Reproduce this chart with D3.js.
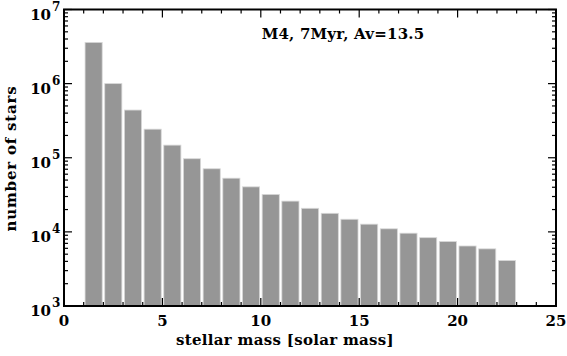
<!DOCTYPE html>
<html><head><meta charset="utf-8">
<script src="https://cdn.jsdelivr.net/npm/d3@7"></script>
<style>body{margin:0;background:#fff}svg text{font-family:"DejaVu Serif",serif;font-weight:bold;fill:#000}</style>
</head><body><svg id="c" width="567" height="356"></svg>
<script>
const massBins = [1,2,3,4,5,6,7,8,9,10,11,12,13,14,15,16,17,18,19,20,21,22];
const starCounts = [3.6e6,1.0e6,4.4e5,2.43e5,1.48e5,9.7e4,7.1e4,5.3e4,4.05e4,3.2e4,2.6e4,2.08e4,1.78e4,1.48e4,1.27e4,1.10e4,9.6e3,8.35e3,7.4e3,6.45e3,5.9e3,4.1e3];
const xTicks = [0,5,10,15,20,25];
const yTickExps = [3,4,5,6,7];
const annotation = "M4, 7Myr, Av=13.5";
const xTitle = "stellar mass [solar mass]";
const yTitle = "number of stars";

const L=64, R=556, T=9.5, B=306;
const svg = d3.select("#c");
const x = d3.scaleLinear().domain([0,25]).range([L,R]);
const y = d3.scaleLog().domain([1e3,1e7]).range([B,T]);

// bars
svg.append("g").selectAll("rect").data(massBins).join("rect")
  .attr("x", d=>x(d+0.07)).attr("width", d=>x(d+0.94)-x(d+0.07))
  .attr("y", (d,i)=>y(starCounts[i])).attr("height",(d,i)=>B-y(starCounts[i]))
  .attr("fill","#969696").attr("stroke","#d8d8d8").attr("stroke-width",0.8);

// frame
svg.append("rect").attr("x",L).attr("y",T).attr("width",R-L).attr("height",B-T)
  .attr("fill","none").attr("stroke","#000").attr("stroke-width",2);

const g = svg.append("g").attr("stroke","#000").attr("stroke-width",1.2);
// x ticks
const xMinor = d3.range(0,26,1);
xMinor.forEach(v=>{
  const len = (v%5===0)?8:4;
  g.append("line").attr("x1",x(v)).attr("x2",x(v)).attr("y1",B).attr("y2",B-len);
  g.append("line").attr("x1",x(v)).attr("x2",x(v)).attr("y1",T).attr("y2",T+len);
});
// y ticks
const yAll=[];
for(let e=3;e<7;e++){for(let m=1;m<10;m++) yAll.push([m*Math.pow(10,e), m===1]);}
yAll.push([1e7,true]);
yAll.forEach(([v,maj])=>{
  const len = maj?8:4;
  g.append("line").attr("x1",L).attr("x2",L+len).attr("y1",y(v)).attr("y2",y(v));
  g.append("line").attr("x1",R).attr("x2",R-len).attr("y1",y(v)).attr("y2",y(v));
});

// x tick labels
svg.append("g").selectAll("text").data(xTicks).join("text")
  .attr("x",d=>x(d)).attr("y",326).attr("text-anchor","middle")
  .attr("font-size",15).text(d=>d);
// y tick labels
yTickExps.forEach(e=>{
  svg.append("text").attr("x",51).attr("y",y(Math.pow(10,e))+10)
    .attr("text-anchor","end").attr("font-size",15).text("10");
  svg.append("text").attr("x",52).attr("y",y(Math.pow(10,e))+1)
    .attr("font-size",12).text(e);
});
// titles
svg.append("text").attr("x",285).attr("y",345).attr("text-anchor","middle")
  .attr("font-size",15).attr("letter-spacing",0.3).text(xTitle);
svg.append("text").attr("transform",`translate(15.5,158.5) rotate(-90)`)
  .attr("text-anchor","middle").attr("font-size",15).attr("letter-spacing",0.8).text(yTitle);
svg.append("text").attr("x",343).attr("y",39).attr("text-anchor","middle")
  .attr("font-size",15).attr("letter-spacing",0.2).text(annotation);
</script></body></html>
